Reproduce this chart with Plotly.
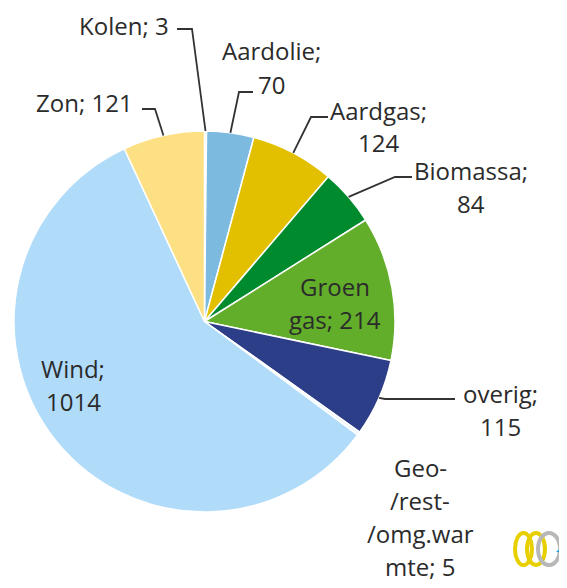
import math
import plotly.graph_objects as go

# data
labels = ["Kolen", "Aardolie", "Aardgas", "Biomassa", "Groen gas", "overig",
          "Geo-/rest-/omg.warmte", "Wind", "Zon"]
values = [3, 70, 124, 84, 214, 115, 5, 1014, 121]
colors = ["#E8E8E8", "#7CBAE0", "#E2C000", "#008A2E", "#62AD2A", "#2C3E87",
          "#EEF6FC", "#B0DCFA", "#FDE083"]

# how Excel wrapped each data label
label_fmt = {
    "Kolen": "Kolen; {v}",
    "Aardolie": "Aardolie;|{v}",
    "Aardgas": "Aardgas;|{v}",
    "Biomassa": "Biomassa;|{v}",
    "Groen gas": "Groen|gas; {v}",
    "overig": "overig;|{v}",
    "Geo-/rest-/omg.warmte": "Geo-|/rest-|/omg.war|mte; {v}",
    "Wind": "Wind;|{v}",
    "Zon": "Zon; {v}",
}

# page has an 8px body margin, so the figure is a bit smaller and shifted
OFF = 8
W, H = 567 - OFF, 588 - OFF
CX, CY, R = 204.5, 321.5, 190.5   # pie centre / radius in page px
LINE_H = 33

# label placement (page px): centre x, first line y, leader elbow, leader end
label_pos = {
    "Kolen": (124, 25, (192, 29), (177, 29)),
    "Aardolie": (271, 51, (239, 92), (253, 92)),
    "Aardgas": (378, 110, (311, 117), (328, 117)),
    "Biomassa": (471, 170, (395, 177), (412, 177)),
    "Groen gas": (335, 286, None, None),
    "overig": (500, 393, (385, 399), (455, 399)),
    "Geo-/rest-/omg.warmte": (420, 467, None, None),
    "Wind": (73, 368, None, None),
    "Zon": (84, 103, (155, 109), (142, 109)),
}


def px(x, y):
    return (x - OFF) / W, 1 - (y - OFF) / H


fig = go.Figure()
d0, d1 = px(CX - R, CY + R), px(CX + R, CY - R)
fig.add_trace(go.Pie(
    labels=labels,
    values=values,
    sort=False,
    direction="clockwise",
    rotation=0,
    marker=dict(colors=colors, line=dict(color="white", width=1.5)),
    textinfo="none",
    hoverinfo="label+value",
    showlegend=False,
    domain=dict(x=[d0[0], d1[0]], y=[d0[1], d1[1]]),
))

total = sum(values)
annotations = []
shapes = []
cum = 0
for name, v in zip(labels, values):
    mid = (cum + v / 2) / total * 2 * math.pi
    cum += v
    tx, ty = CX + R * math.sin(mid), CY - R * math.cos(mid)
    x, y0, elbow, end = label_pos[name]
    for i, line in enumerate(label_fmt[name].format(v=v).split("|")):
        ax, ay = px(x, y0 + i * LINE_H)
        annotations.append(dict(x=ax, y=ay, xref="paper", yref="paper", text=line,
                                showarrow=False, xanchor="center", yanchor="middle",
                                borderpad=0,
                                font=dict(size=24, color="#2b2b2b")))
    if elbow:
        p = [px(tx, ty), px(*elbow), px(*end)]
        path = "M {} {} L {} {} L {} {}".format(p[0][0], p[0][1], p[1][0], p[1][1], p[2][0], p[2][1])
        shapes.append(dict(type="path", xref="paper", yref="paper", path=path,
                           line=dict(color="#333333", width=1.8)))

# little logo bottom right
for x0, x1, c in [(515, 532, "#E8D000"), (527, 545, "#E8D000"), (538, 560, "#B8B8B8")]:
    a, b = px(x0, 565), px(x1, 533)
    shapes.append(dict(type="circle", xref="paper", yref="paper", x0=a[0], y0=a[1], x1=b[0], y1=b[1],
                       line=dict(color=c, width=4)))
t = [px(556, 552), px(567, 543), px(567, 553)]
shapes.append(dict(type="path", xref="paper", yref="paper",
                   path="M {} {} L {} {} L {} {} Z".format(t[0][0], t[0][1], t[1][0], t[1][1], t[2][0], t[2][1]),
                   fillcolor="#1E9BE0", line=dict(width=0)))

fig.update_layout(
    width=W, height=H,
    margin=dict(l=0, r=0, t=0, b=0),
    paper_bgcolor="white",
    plot_bgcolor="white",
    font=dict(family="Open Sans", color="#2b2b2b"),
    annotations=annotations,
    shapes=shapes,
)
fig.write_html("out.html")
